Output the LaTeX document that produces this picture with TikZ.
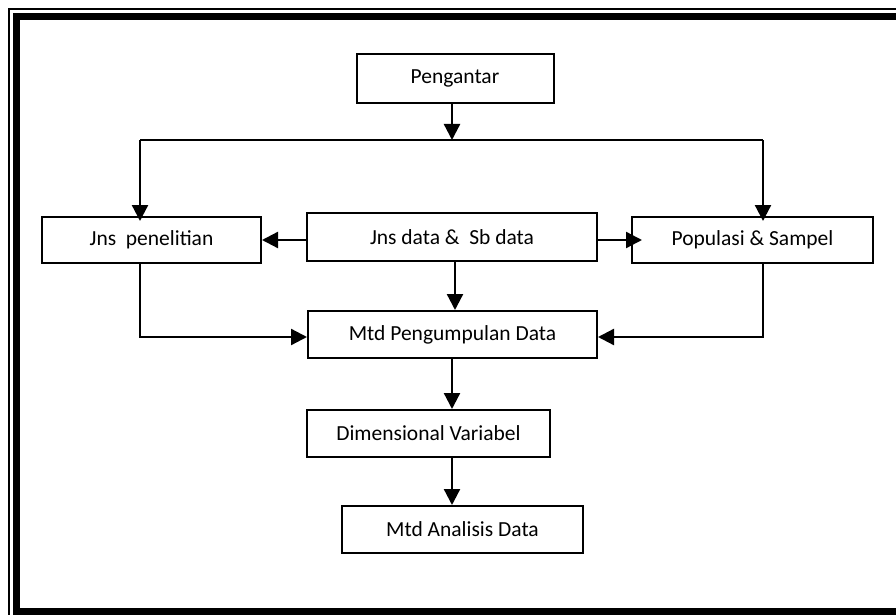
\documentclass[tikz,border=0pt]{standalone}
\usepackage{fontspec}
\setmainfont{Carlito}
\usetikzlibrary{arrows.meta}

\tikzset{
  box/.style={draw, line width=2pt, rectangle, inner sep=0pt, align=center,
              font=\fontsize{21.5}{25}\selectfont},
  arr/.style={line width=2.3pt, -{Triangle[length=16pt,width=16pt]}},
  link/.style={line width=2.3pt}
}

\begin{document}
\begin{tikzpicture}[x=1pt,y=-1pt]
\useasboundingbox (0,0) rectangle (896,615);

% page frame: thin outer rule and heavy inner band
\draw[line width=1.5pt, line join=miter] (896,9) -- (9,9) -- (9,615);
\draw[line width=7pt, line join=miter] (896,16.5) -- (16.5,16.5) -- (16.5,611.5) -- (896,611.5);

% boxes
\node[box, minimum width=197pt, minimum height=49pt] (peng) at (455,78.5) {Pengantar};
\node[box, minimum width=219pt, minimum height=46pt] (jnsp) at (151.5,240) {Jns~~penelitian};
\node[box, minimum width=290pt, minimum height=48pt] (jnsd) at (452,237) {Jns data \&~~Sb data};
\node[box, minimum width=241pt, minimum height=46pt] (pop)  at (752.5,240) {Populasi \& Sampel};
\node[box, minimum width=289pt, minimum height=47pt] (mtdp) at (452.5,334.5) {Mtd Pengumpulan Data};
\node[box, minimum width=243pt, minimum height=47pt] (dim)  at (428.5,433.5) {Dimensional Variabel};
\node[box, minimum width=241pt, minimum height=47pt] (mtda) at (462.5,529.5) {Mtd Analisis Data};

% routing points
\coordinate (split) at (452,140);
\coordinate (bl) at (140,140);
\coordinate (br) at (763,140);
\coordinate (ml) at (140,337);
\coordinate (mr) at (763,337);

% Pengantar to the branch line
\draw[arr] (peng.south -| split) -- (split);
\draw[link] (bl) -- (br);
\draw[arr] (bl) -- ([yshift=-5pt]bl |- jnsp.north);
\draw[arr] (br) -- ([yshift=-5pt]br |- pop.north);

% side arrows from the data box
\draw[arr] (jnsd.west |- jnsp.east) -- (jnsp.east);
\draw[arr] (jnsd.east |- pop.west) -- ([xshift=11pt]pop.west);

% into the collection method box
\draw[arr] ([xshift=3pt]jnsd.south) -- ([xshift=3pt]jnsd.south |- mtdp.north);
\draw[arr] (bl |- jnsp.south) -- (ml) -- (ml -| mtdp.west);
\draw[arr] (br |- pop.south) -- (mr) -- (mr -| mtdp.east);

% lower chain
\draw[arr] (split |- mtdp.south) -- (split |- dim.north);
\draw[arr] (split |- dim.south) -- (split |- mtda.north);
\end{tikzpicture}
\end{document}
